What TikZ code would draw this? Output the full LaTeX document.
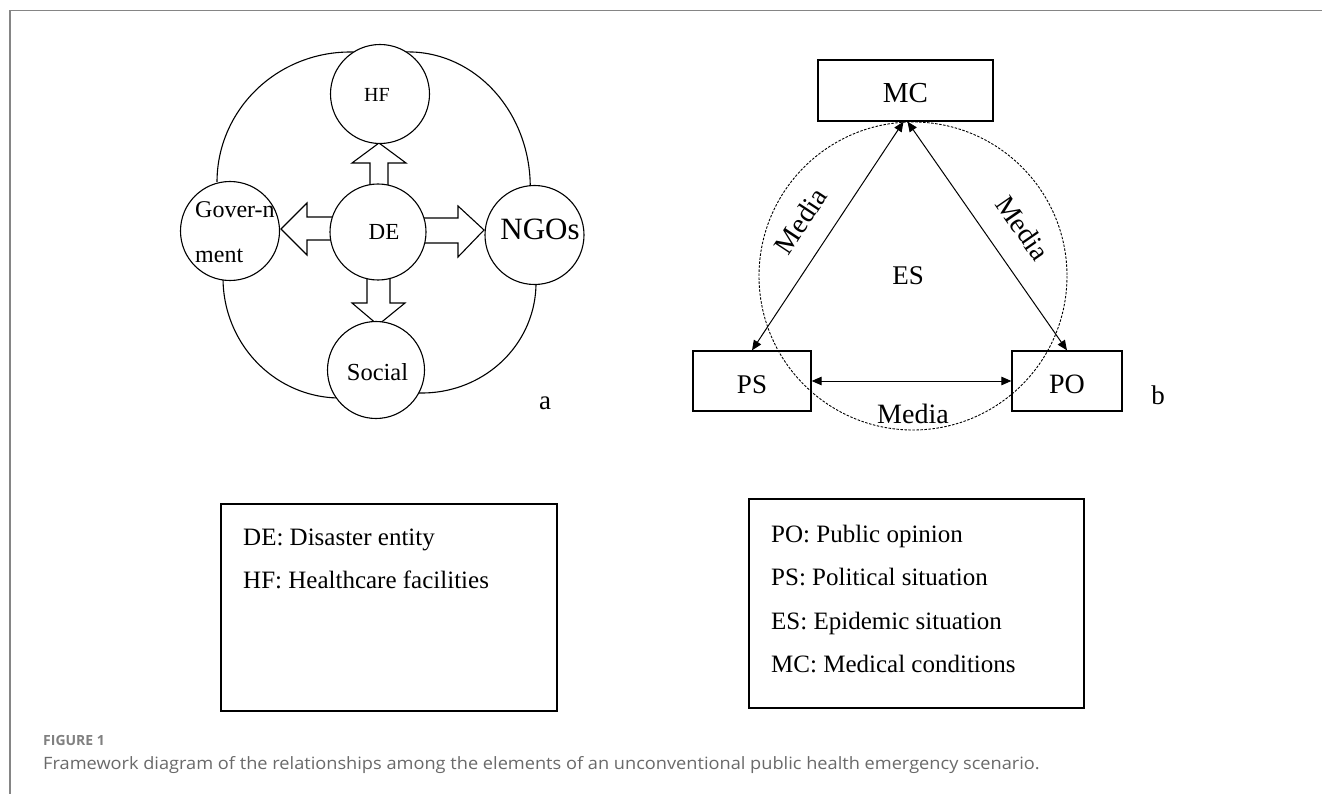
\documentclass[tikz,border=0pt]{standalone}
\usepackage{fontspec}
\setmainfont{Liberation Serif}
\newfontfamily\capfont{Open Sans}
\usetikzlibrary{arrows.meta}
\newcommand\fsz[1]{\fontsize{#1}{#1}\selectfont}
\definecolor{framegray}{HTML}{858585}
\definecolor{capgray}{HTML}{6A6A6A}
\begin{document}
\begin{tikzpicture}[x=1pt,y=-1pt,
  circ/.style={circle,draw,line width=1.1pt,fill=white,inner sep=0pt,minimum size=#1},
  circ/.default=99pt,
  blk/.style={draw,line width=1.1pt,fill=white,line join=miter},
  ring/.style={line width=1.1pt},
  rbox/.style={draw,line width=1.3pt,inner sep=0pt,minimum width=#1,minimum height=60pt,text height=25pt,text depth=0pt},
  arr/.style={{Triangle[length=10pt,width=8.5pt]}-{Triangle[length=10pt,width=8.5pt]},line width=1pt},
  lbl/.style={inner sep=0pt,font=\fsz{28}},
  txt/.style={inner sep=0pt,anchor=base},
  leg/.style={draw,line width=1.4pt,inner sep=0pt},
  legtxt/.style={anchor=base west,inner sep=0pt,font=\fsz{25}},
]
\fill[white] (0,0) rectangle (1322,794);
\useasboundingbox (0,0) rectangle (1322,794);
% frame
\draw[framegray,line width=1.5pt] (10,794) -- (10,10.5) -- (1322,10.5);

% ---------- panel a ----------
\draw[ring] (217,182) arc[start angle=180,end angle=272,x radius=133,y radius=130];
\draw[ring] (404,52) arc[start angle=268,end angle=362,x radius=122,y radius=135];
\draw[ring] (223,278) arc[start angle=180,end angle=88,x radius=117,y radius=120];
\draw[ring] (536,283) arc[start angle=0,end angle=92,x radius=114,y radius=110];

\draw[blk] (370,190) -- (370,163) -- (352,163) -- (379,143) -- (406,163) -- (388,163) -- (388,190) -- cycle;
\draw[blk] (367,274) -- (367,303) -- (352,303) -- (378,325) -- (405,303) -- (390,303) -- (390,274) -- cycle;
\draw[blk] (334,217) -- (307,217) -- (307,203) -- (281,229) -- (307,255) -- (307,240) -- (334,240) -- cycle;
\draw[blk] (422,218) -- (458,218) -- (458,206) -- (484,230) -- (458,257) -- (458,243) -- (422,243) -- cycle;

\node[circ] (HF) at (380,94) {};
\node[circ=96pt] (DE) at (378,232) {};
\node[circ] (GOV) at (230,231) {};
\node[circ] (NGO) at (534.5,235) {};
\node[circ=97pt] (SOC) at (376,370) {};

\node[txt,font=\fsz{20}] (HFt) at (377,102) {HF};
\node[txt,font=\fsz{23}] (DEt) at (384,240) {DE};
\node[txt,font=\fsz{31}] (NGOt) at (540,240) {NGOs};
\node[txt,font=\fsz{24.5}] (SOCt) at (377.5,380) {Social};
\node[inner sep=0pt,anchor=base west,font=\fsz{24}] (GOVt1) at (195,218) {Gover-n};
\node[inner sep=0pt,anchor=base west,font=\fsz{24}] (GOVt2) at (195,262) {ment};
\node[txt,font=\fsz{27}] (la) at (545,409) {a};

% ---------- panel b ----------
\draw[dash pattern=on 2.5pt off 1.5pt,line width=0.9pt] (913,276) circle[radius=154];
\node[rbox=175pt,minimum height=61pt,font=\fsz{29}] (MC) at (905.5,90.5) {MC};
\node[rbox=118pt,font=\fsz{27}] (PS) at (752,381) {PS};
\node[rbox=110pt,font=\fsz{28}] (PO) at (1067,381) {PO};

\draw[arr] (PS.east) -- (PO.west);
\draw[arr] ([xshift=-2pt]MC.south) -- (PS.north);
\draw[arr] ([xshift=2pt]MC.south) -- (PO.north);

\node[lbl,rotate=56.5] (m1) at (800.5,221) {Media};
\node[lbl,rotate=-55.3] (m2) at (1023,228) {Media};
\node[lbl,anchor=base] (m3) at (913,423) {Media};
\node[txt,font=\fsz{27}] (ES) at (908,285) {ES};
\node[txt,font=\fsz{27}] (lb) at (1158,404) {b};

% ---------- legends ----------
\node[leg,minimum width=336pt,minimum height=207pt] (legA) at (389,607.5) {};
\node[leg,minimum width=335pt,minimum height=209pt] (legB) at (916.5,603.5) {};
\node[legtxt] (la1) at (243,545) {DE: Disaster entity};
\node[legtxt] (la2) at (243,588) {HF: Healthcare facilities};
\node[legtxt] (lb1) at (771,542) {PO: Public opinion};
\node[legtxt] (lb2) at (771,585) {PS: Political situation};
\node[legtxt] (lb3) at (771,629) {ES: Epidemic situation};
\node[legtxt] (lb4) at (771,672) {MC: Medical conditions};

% ---------- caption ----------
\node[inner sep=0pt,anchor=base west,text=capgray!85,font=\capfont\bfseries\fsz{14}] (fig) at (43,745) {FIGURE 1};
\node[inner sep=0pt,anchor=base west,text=capgray,font=\capfont\fsz{17}] (cap) at (43,769) {\scalebox{1.07}[1]{Framework diagram of the relationships among the elements of an unconventional public health emergency scenario.}};
\end{tikzpicture}
\end{document}
